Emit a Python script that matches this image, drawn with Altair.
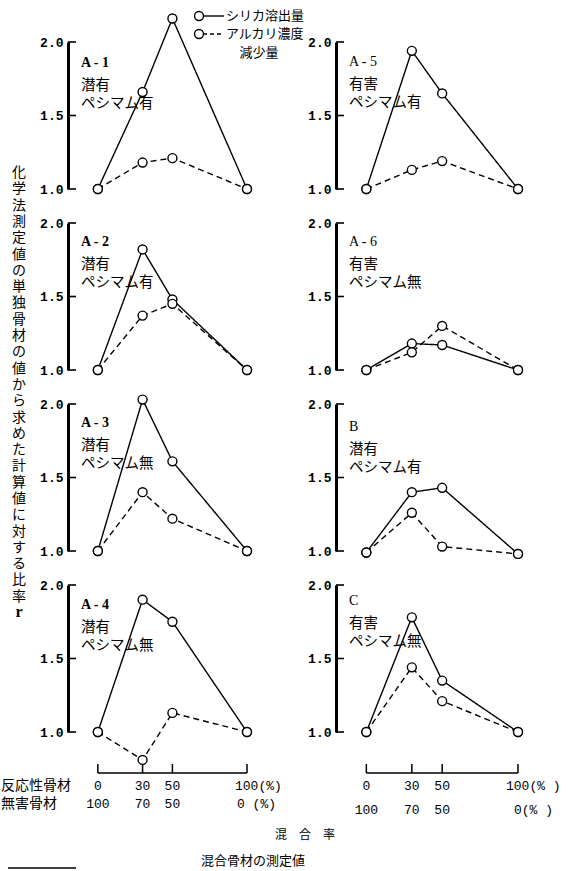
import altair as alt
import pandas as pd

# ---------------- data ----------------
mix_pct = [0, 30, 50, 100]          # 反応性骨材 (%)
harmless_pct = [100, 70, 50, 0]     # 無害骨材 (%)
y_ticks = [1.0, 1.5, 2.0]
series_names = ["シリカ溶出量", "アルカリ濃度減少量"]

panel_ids = ["A - 1", "A - 2", "A - 3", "A - 4", "A - 5", "A - 6", "B", "C"]
panel_kind = ["潜有", "潜有", "潜有", "潜有", "有害", "有害", "潜有", "有害"]
panel_pess = ["ペシマム有", "ペシマム有", "ペシマム無", "ペシマム無",
              "ペシマム有", "ペシマム無", "ペシマム有", "ペシマム無"]

silica_A1 = [1.00, 1.66, 2.16, 1.00]
alkali_A1 = [1.00, 1.18, 1.21, 1.00]
silica_A2 = [1.00, 1.82, 1.48, 1.00]
alkali_A2 = [1.00, 1.37, 1.45, 1.00]
silica_A3 = [1.00, 2.03, 1.61, 1.00]
alkali_A3 = [1.00, 1.40, 1.22, 1.00]
silica_A4 = [1.00, 1.90, 1.75, 1.00]
alkali_A4 = [1.00, 0.81, 1.13, 1.00]
silica_A5 = [1.00, 1.94, 1.65, 1.00]
alkali_A5 = [1.00, 1.13, 1.19, 1.00]
silica_A6 = [1.00, 1.18, 1.17, 1.00]
alkali_A6 = [1.00, 1.12, 1.30, 1.00]
silica_B = [0.99, 1.40, 1.43, 0.98]
alkali_B = [0.99, 1.26, 1.03, 0.98]
silica_C = [1.00, 1.78, 1.35, 1.00]
alkali_C = [1.00, 1.44, 1.21, 1.00]

silica_all = [silica_A1, silica_A2, silica_A3, silica_A4,
              silica_A5, silica_A6, silica_B, silica_C]
alkali_all = [alkali_A1, alkali_A2, alkali_A3, alkali_A4,
              alkali_A5, alkali_A6, alkali_B, alkali_C]

y_title = "化学法測定値の単独骨材の値から求めた計算値に対する比率"
legend_extra = "減少量"

# ---------------- style ----------------
JP = "Noto Sans CJK JP"
MONO = "Liberation Mono"
SERIF = "Liberation Serif"
H = 147
x_scale = alt.Scale(domain=[-20, 100], nice=False, zero=False)
y_scale = alt.Scale(domain=[1.0, 2.0], nice=False, zero=False)
y_axis = alt.Axis(values=y_ticks, format=".1f", title=None, ticks=False,
                  grid=False, domainWidth=3, domainColor="black",
                  labelFont=MONO, labelFontWeight="bold", labelFontSize=13,
                  labelColor="black", labelPadding=5)


def X(field="x"):
    return alt.X(f"{field}:Q", scale=x_scale, axis=None)


def make_panel(i, id_weight, label_top=20):
    rows = []
    for name, vals in zip(series_names, [silica_all[i], alkali_all[i]]):
        for x, v in zip(mix_pct, vals):
            rows.append({"x": x, "value": v, "series": name})
    df = pd.DataFrame(rows)

    ticks = alt.Chart(pd.DataFrame({"v": y_ticks})).mark_rule(
        color="black", strokeWidth=1.6
    ).encode(y=alt.Y("v:Q", scale=y_scale, axis=y_axis),
             x=alt.value(0), x2=alt.value(8))

    lines = alt.Chart(df).mark_line(color="black", strokeWidth=1.4).encode(
        x=X(), y=alt.Y("value:Q", scale=y_scale, axis=y_axis),
        strokeDash=alt.StrokeDash("series:N", legend=None,
                                  scale=alt.Scale(domain=series_names,
                                                  range=[[1, 0], [6, 4]])),
        order="x:Q",
    )
    points = alt.Chart(df).mark_circle(
        size=80, fill="white", stroke="black", strokeWidth=1.4, opacity=1
    ).encode(x=X(), y=alt.Y("value:Q", scale=y_scale, axis=y_axis))

    lab = pd.DataFrame({"id": [panel_ids[i]], "k": [panel_kind[i]],
                        "p": [panel_pess[i]]})
    t_id = alt.Chart(lab).mark_text(
        align="left", baseline="middle", font=SERIF, fontSize=14,
        fontWeight=id_weight, color="black"
    ).encode(x=alt.value(13), y=alt.value(label_top), text="id:N")
    t_k = alt.Chart(lab).mark_text(
        align="left", baseline="middle", font=JP, fontSize=14.5, color="black"
    ).encode(x=alt.value(13), y=alt.value(label_top + 23), text="k:N")
    t_p = alt.Chart(lab).mark_text(
        align="left", baseline="middle", font=JP, fontSize=14.5, color="black"
    ).encode(x=alt.value(13), y=alt.value(label_top + 41), text="p:N")
    return [ticks, lines, points, t_id, t_k, t_p]


def bottom_layers(row2_y, last1, last2, dx1, dx2):
    span = pd.DataFrame({"a": [mix_pct[0]], "b": [mix_pct[-1]]})
    bracket = alt.Chart(span).mark_rule(color="black", strokeWidth=1.5).encode(
        x=X("a"), x2="b:Q", y=alt.value(188))
    bticks = alt.Chart(pd.DataFrame({"x": mix_pct})).mark_rule(
        color="black", strokeWidth=1.5
    ).encode(x=X(), y=alt.value(179), y2=alt.value(188))
    r1 = pd.DataFrame({"x": mix_pct,
                       "t": [str(v) for v in mix_pct[:-1]] + [str(mix_pct[-1]) + last1]})
    r2 = pd.DataFrame({"x": mix_pct,
                       "t": [str(v) for v in harmless_pct[:-1]] + [str(harmless_pct[-1]) + last2]})
    out = []
    for d, yy, dx in [(r1, 201, dx1), (r2, row2_y, dx2)]:
        base = alt.Chart(d)
        out.append(base.mark_text(align="center", baseline="middle", font=MONO,
                                  fontSize=13, color="black")
                   .encode(x=X(), y=alt.value(yy), text="t:N")
                   .transform_filter(alt.datum.x < 100))
        out.append(base.mark_text(align="left", baseline="middle", font=MONO,
                                  fontSize=13, color="black", dx=dx)
                   .encode(x=X(), y=alt.value(yy), text="t:N")
                   .transform_filter(alt.datum.x >= 100))
    return [bracket, bticks] + out


one = pd.DataFrame({"t": [""]})


def txt(text, x, y, size=13, font=JP, align="left", weight="normal", **kw):
    return alt.Chart(pd.DataFrame({"t": [text]})).mark_text(
        align=align, baseline="middle", font=font, fontSize=size,
        fontWeight=weight, color="black", **kw
    ).encode(x=alt.value(x), y=alt.value(y), text="t:N")


LW, RW = 179, 182

# ---- panel A-1 with legend, y title, anchor ----
p1 = make_panel(0, "bold", 21)
anchor = alt.Chart(one).mark_rule(color="white", strokeWidth=1).encode(
    x=alt.value(-67), x2=alt.value(-62), y=alt.value(-41))
leg = [
    alt.Chart(one).mark_rule(color="black", strokeWidth=1.4).encode(
        x=alt.value(135), x2=alt.value(156), y=alt.value(-26)),
    alt.Chart(one).mark_rule(color="black", strokeWidth=1.4, strokeDash=[4, 3]).encode(
        x=alt.value(135), x2=alt.value(156), y=alt.value(-8)),
    alt.Chart(one).mark_circle(size=80, fill="white", stroke="black",
                               strokeWidth=1.4, opacity=1).encode(
        x=alt.value(131), y=alt.value(-26)),
    alt.Chart(one).mark_circle(size=80, fill="white", stroke="black",
                               strokeWidth=1.4, opacity=1).encode(
        x=alt.value(131), y=alt.value(-8)),
    txt(series_names[0], 158, -26, 13),
    txt(series_names[1].replace(legend_extra, ""), 158, -8, 13),
    txt(legend_extra, 191, 11, 13, align="center"),
]
ytitle = alt.Chart(pd.DataFrame({"t": ["\n".join(y_title)]})).mark_text(
    align="center", baseline="top", font=JP, fontSize=14, lineHeight=16.3,
    lineBreak="\n", color="black"
).encode(x=alt.value(-49), y=alt.value(124), text="t:N")
r_txt = txt("r", -49, 570, 16, font=SERIF, align="center", weight="bold")
A1 = alt.layer(*(p1 + [anchor] + leg + [ytitle, r_txt])).properties(width=LW, height=H)

A2 = alt.layer(*make_panel(1, "bold", 19)).properties(width=LW, height=H)
A3 = alt.layer(*make_panel(2, "bold", 19)).properties(width=LW, height=H)
A4 = alt.layer(*(make_panel(3, "bold", 20)
                 + bottom_layers(219, "(%)", " (%)", -12, -10)
                 + [txt("反応性骨材", -67, 201, 14),
                    txt("無害骨材", -67, 219, 14),
                    txt("混\u3000合\u3000率", 237, 250, 12, align="center"),
                    txt("混合骨材の測定値", 133, 276, 13),
                    alt.Chart(one).mark_rule(color="black", strokeWidth=1.5).encode(
                        x=alt.value(-60), x2=alt.value(8), y=alt.value(283))])
           ).properties(width=LW, height=H)

A5 = alt.layer(*make_panel(4, "normal", 20)).properties(width=RW, height=H)
A6 = alt.layer(*make_panel(5, "normal", 19)).properties(width=RW, height=H)
PB = alt.layer(*make_panel(6, "normal", 23)).properties(width=RW, height=H)
PC = alt.layer(*(make_panel(7, "normal", 16)
                 + bottom_layers(225, "(% )", "(% )", -12, -4))
           ).properties(width=RW, height=H)

chart = alt.concat(A1, A5, A2, A6, A3, PB, A4, PC, columns=2,
                   spacing=alt.RowColnumber(row=34, column=89),
                   bounds="flush").properties(
    padding=0, background="white"
).configure_view(stroke=None)

chart.save("out.html", embed_options={"renderer": "svg", "actions": False})
